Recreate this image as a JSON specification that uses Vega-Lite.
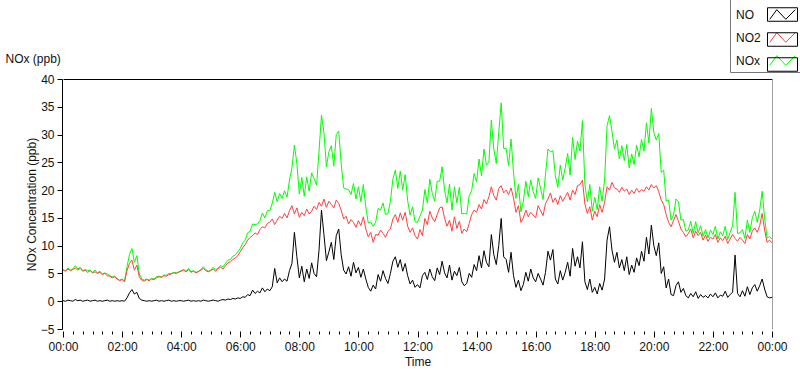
{
  "$schema": "https://vega.github.io/schema/vega-lite/v6.json",
  "width": 709,
  "height": 250,
  "autosize": {"type": "none"},
  "padding": {"left": 63, "top": 79, "right": 28, "bottom": 40},
  "background": "white",
  "config": {
    "font": "Liberation Sans",
    "view": {"stroke": null},
    "axis": {"labelFont": "Liberation Sans", "titleFont": "Liberation Sans", "labelFontSize": 12, "titleFontSize": 12, "titleFontWeight": "normal", "labelColor": "#111", "titleColor": "#111", "grid": false, "domainColor": "#000", "tickColor": "#000"}
  },
  "data": {"values": [
{"m":0,"NO":0.1,"NO2":5.6,"NOx":5.7},{"m":5,"NO":0.0,"NO2":5.4,"NOx":5.5},{"m":10,"NO":0.2,"NO2":5.8,"NOx":6.0},{"m":15,"NO":0.1,"NO2":5.5,"NOx":5.6},{"m":20,"NO":0.0,"NO2":5.7,"NOx":5.8},{"m":25,"NO":0.3,"NO2":6.0,"NOx":6.4},{"m":30,"NO":0.1,"NO2":5.6,"NOx":5.8},{"m":35,"NO":0.2,"NO2":5.9,"NOx":6.1},{"m":40,"NO":0.0,"NO2":5.4,"NOx":5.5},{"m":45,"NO":0.1,"NO2":5.6,"NOx":5.7},{"m":50,"NO":0.2,"NO2":5.2,"NOx":5.5},{"m":55,"NO":0.0,"NO2":5.5,"NOx":5.6},
{"m":60,"NO":0.1,"NO2":5.1,"NOx":5.2},{"m":65,"NO":0.2,"NO2":5.3,"NOx":5.6},{"m":70,"NO":0.0,"NO2":5.0,"NOx":5.1},{"m":75,"NO":0.1,"NO2":5.2,"NOx":5.4},{"m":80,"NO":0.0,"NO2":4.8,"NOx":4.9},{"m":85,"NO":0.1,"NO2":5.0,"NOx":5.1},{"m":90,"NO":0.2,"NO2":4.6,"NOx":4.9},{"m":95,"NO":0.0,"NO2":4.5,"NOx":4.6},{"m":100,"NO":0.1,"NO2":4.2,"NOx":4.4},{"m":105,"NO":0.0,"NO2":4.4,"NOx":4.5},{"m":110,"NO":0.1,"NO2":4.0,"NOx":4.1},{"m":115,"NO":0.0,"NO2":3.7,"NOx":3.8},
{"m":120,"NO":0.1,"NO2":3.9,"NOx":4.0},{"m":125,"NO":0.0,"NO2":3.5,"NOx":3.6},{"m":130,"NO":0.6,"NO2":5.5,"NOx":6.2},{"m":135,"NO":1.5,"NO2":6.8,"NOx":8.4},{"m":140,"NO":2.1,"NO2":7.4,"NOx":9.5},{"m":145,"NO":1.3,"NO2":5.6,"NOx":7.0},{"m":150,"NO":1.6,"NO2":6.5,"NOx":8.2},{"m":155,"NO":0.5,"NO2":4.3,"NOx":4.9},{"m":160,"NO":0.2,"NO2":3.8,"NOx":4.0},{"m":165,"NO":0.1,"NO2":3.6,"NOx":3.8},{"m":170,"NO":0.0,"NO2":3.9,"NOx":4.0},{"m":175,"NO":0.1,"NO2":3.7,"NOx":3.8},
{"m":180,"NO":0.0,"NO2":4.0,"NOx":4.1},{"m":185,"NO":0.1,"NO2":3.9,"NOx":4.0},{"m":190,"NO":0.2,"NO2":4.2,"NOx":4.4},{"m":195,"NO":0.0,"NO2":4.4,"NOx":4.5},{"m":200,"NO":0.1,"NO2":4.3,"NOx":4.4},{"m":205,"NO":0.0,"NO2":4.6,"NOx":4.7},{"m":210,"NO":0.1,"NO2":4.5,"NOx":4.7},{"m":215,"NO":0.2,"NO2":4.8,"NOx":5.0},{"m":220,"NO":0.0,"NO2":4.9,"NOx":5.0},{"m":225,"NO":0.1,"NO2":5.1,"NOx":5.2},{"m":230,"NO":0.0,"NO2":5.0,"NOx":5.1},{"m":235,"NO":0.1,"NO2":5.2,"NOx":5.3},
{"m":240,"NO":0.1,"NO2":5.4,"NOx":5.5},{"m":245,"NO":0.0,"NO2":5.6,"NOx":5.7},{"m":250,"NO":0.1,"NO2":5.3,"NOx":5.4},{"m":255,"NO":0.2,"NO2":5.7,"NOx":5.9},{"m":260,"NO":0.0,"NO2":5.2,"NOx":5.3},{"m":265,"NO":0.1,"NO2":5.4,"NOx":5.5},{"m":270,"NO":0.0,"NO2":5.1,"NOx":5.2},{"m":275,"NO":0.1,"NO2":5.3,"NOx":5.4},{"m":280,"NO":0.0,"NO2":5.6,"NOx":5.7},{"m":285,"NO":0.2,"NO2":5.9,"NOx":6.2},{"m":290,"NO":0.1,"NO2":5.5,"NOx":5.7},{"m":295,"NO":0.0,"NO2":5.3,"NOx":5.4},
{"m":300,"NO":0.1,"NO2":5.5,"NOx":5.6},{"m":305,"NO":0.2,"NO2":5.8,"NOx":6.1},{"m":310,"NO":0.1,"NO2":5.4,"NOx":5.6},{"m":315,"NO":0.0,"NO2":5.9,"NOx":6.0},{"m":320,"NO":0.2,"NO2":6.1,"NOx":6.4},{"m":325,"NO":0.3,"NO2":5.8,"NOx":6.2},{"m":330,"NO":0.2,"NO2":6.4,"NOx":6.8},{"m":335,"NO":0.4,"NO2":6.9,"NOx":7.4},{"m":340,"NO":0.3,"NO2":7.1,"NOx":7.5},{"m":345,"NO":0.5,"NO2":7.5,"NOx":8.1},{"m":350,"NO":0.4,"NO2":7.8,"NOx":8.3},{"m":355,"NO":0.6,"NO2":8.2,"NOx":8.9},
{"m":360,"NO":0.5,"NO2":8.9,"NOx":9.5},{"m":365,"NO":0.8,"NO2":9.6,"NOx":10.5},{"m":370,"NO":0.7,"NO2":10.2,"NOx":11.0},{"m":375,"NO":1.2,"NO2":11.0,"NOx":12.3},{"m":380,"NO":1.0,"NO2":11.5,"NOx":12.6},{"m":385,"NO":2.0,"NO2":11.8,"NOx":13.9},{"m":390,"NO":1.4,"NO2":12.3,"NOx":13.8},{"m":395,"NO":1.8,"NO2":12.0,"NOx":13.9},{"m":400,"NO":1.5,"NO2":12.9,"NOx":14.5},{"m":405,"NO":2.4,"NO2":13.4,"NOx":15.9},{"m":410,"NO":1.7,"NO2":13.2,"NOx":15.0},{"m":415,"NO":2.2,"NO2":14.0,"NOx":16.3},
{"m":420,"NO":1.9,"NO2":14.2,"NOx":16.3},{"m":425,"NO":2.6,"NO2":14.8,"NOx":17.6},{"m":430,"NO":5.9,"NO2":13.8,"NOx":19.6},{"m":435,"NO":3.3,"NO2":14.6,"NOx":17.9},{"m":440,"NO":4.2,"NO2":15.3,"NOx":19.4},{"m":445,"NO":3.5,"NO2":14.9,"NOx":18.5},{"m":450,"NO":4.0,"NO2":15.8,"NOx":19.9},{"m":455,"NO":3.6,"NO2":15.0,"NOx":18.7},{"m":460,"NO":5.5,"NO2":16.3,"NOx":21.8},{"m":465,"NO":6.8,"NO2":17.2,"NOx":24.0},{"m":470,"NO":12.4,"NO2":15.7,"NOx":28.1},{"m":475,"NO":8.0,"NO2":16.8,"NOx":24.8},
{"m":480,"NO":4.2,"NO2":15.1,"NOx":19.3},{"m":485,"NO":6.3,"NO2":16.0,"NOx":22.3},{"m":490,"NO":3.5,"NO2":15.4,"NOx":18.9},{"m":495,"NO":5.8,"NO2":16.6,"NOx":22.4},{"m":500,"NO":4.1,"NO2":15.7,"NOx":19.8},{"m":505,"NO":6.9,"NO2":16.2,"NOx":23.1},{"m":510,"NO":5.0,"NO2":17.1,"NOx":22.1},{"m":515,"NO":4.4,"NO2":16.5,"NOx":20.9},{"m":520,"NO":9.2,"NO2":17.8,"NOx":27.0},{"m":525,"NO":16.4,"NO2":17.1,"NOx":33.5},{"m":530,"NO":12.0,"NO2":18.4,"NOx":30.4},{"m":535,"NO":7.3,"NO2":16.9,"NOx":24.2},
{"m":540,"NO":8.9,"NO2":18.0,"NOx":26.9},{"m":545,"NO":10.6,"NO2":17.4,"NOx":28.0},{"m":550,"NO":7.5,"NO2":16.8,"NOx":24.3},{"m":555,"NO":11.8,"NO2":18.2,"NOx":30.0},{"m":560,"NO":13.0,"NO2":17.6,"NOx":30.6},{"m":565,"NO":8.4,"NO2":16.4,"NOx":24.8},{"m":570,"NO":5.6,"NO2":14.8,"NOx":20.4},{"m":575,"NO":4.9,"NO2":15.3,"NOx":20.2},{"m":580,"NO":6.2,"NO2":13.9,"NOx":20.1},{"m":585,"NO":4.5,"NO2":14.7,"NOx":19.2},{"m":590,"NO":7.0,"NO2":14.2,"NOx":21.2},{"m":595,"NO":5.1,"NO2":13.3,"NOx":18.4},
{"m":600,"NO":6.1,"NO2":14.5,"NOx":20.6},{"m":605,"NO":4.3,"NO2":13.6,"NOx":17.9},{"m":610,"NO":5.8,"NO2":15.2,"NOx":21.0},{"m":615,"NO":4.0,"NO2":13.0,"NOx":17.0},{"m":620,"NO":2.5,"NO2":11.6,"NOx":14.1},{"m":625,"NO":1.8,"NO2":12.4,"NOx":14.2},{"m":630,"NO":2.9,"NO2":10.6,"NOx":13.5},{"m":635,"NO":2.2,"NO2":12.0,"NOx":14.2},{"m":640,"NO":4.8,"NO2":11.9,"NOx":16.7},{"m":645,"NO":3.6,"NO2":12.8,"NOx":16.4},{"m":650,"NO":5.5,"NO2":12.2,"NOx":17.7},{"m":655,"NO":4.1,"NO2":11.5,"NOx":15.6},
{"m":660,"NO":3.2,"NO2":12.6,"NOx":15.8},{"m":665,"NO":5.0,"NO2":13.0,"NOx":18.0},{"m":670,"NO":7.2,"NO2":14.8,"NOx":22.0},{"m":675,"NO":8.0,"NO2":15.6,"NOx":23.6},{"m":680,"NO":6.1,"NO2":14.2,"NOx":20.3},{"m":685,"NO":7.5,"NO2":15.9,"NOx":23.4},{"m":690,"NO":5.4,"NO2":14.6,"NOx":20.0},{"m":695,"NO":6.8,"NO2":16.0,"NOx":22.8},{"m":700,"NO":4.6,"NO2":13.5,"NOx":18.1},{"m":705,"NO":3.1,"NO2":12.4,"NOx":15.5},{"m":710,"NO":3.8,"NO2":13.2,"NOx":17.0},{"m":715,"NO":2.5,"NO2":11.8,"NOx":14.3},
{"m":720,"NO":3.0,"NO2":11.2,"NOx":14.2},{"m":725,"NO":2.4,"NO2":12.9,"NOx":15.3},{"m":730,"NO":4.6,"NO2":11.8,"NOx":16.4},{"m":735,"NO":5.2,"NO2":14.9,"NOx":20.1},{"m":740,"NO":3.9,"NO2":13.8,"NOx":17.7},{"m":745,"NO":5.8,"NO2":16.2,"NOx":22.0},{"m":750,"NO":4.4,"NO2":15.0,"NOx":19.4},{"m":755,"NO":3.7,"NO2":14.3,"NOx":18.0},{"m":760,"NO":6.0,"NO2":15.6,"NOx":21.6},{"m":765,"NO":4.8,"NO2":16.8,"NOx":21.6},{"m":770,"NO":7.2,"NO2":17.0,"NOx":24.2},{"m":775,"NO":5.1,"NO2":14.9,"NOx":20.0},
{"m":780,"NO":4.2,"NO2":13.5,"NOx":17.7},{"m":785,"NO":6.5,"NO2":14.6,"NOx":21.1},{"m":790,"NO":3.8,"NO2":12.6,"NOx":16.4},{"m":795,"NO":5.4,"NO2":15.2,"NOx":20.6},{"m":800,"NO":4.6,"NO2":13.1,"NOx":17.7},{"m":805,"NO":6.1,"NO2":14.4,"NOx":20.5},{"m":810,"NO":3.5,"NO2":12.2,"NOx":15.7},{"m":815,"NO":2.8,"NO2":13.0,"NOx":15.8},{"m":820,"NO":3.2,"NO2":12.5,"NOx":15.7},{"m":825,"NO":5.0,"NO2":14.0,"NOx":19.0},{"m":830,"NO":4.3,"NO2":15.6,"NOx":19.9},{"m":835,"NO":6.6,"NO2":16.4,"NOx":23.0},
{"m":840,"NO":5.5,"NO2":16.0,"NOx":21.5},{"m":845,"NO":8.2,"NO2":17.4,"NOx":25.6},{"m":850,"NO":6.0,"NO2":16.6,"NOx":22.6},{"m":855,"NO":9.1,"NO2":18.3,"NOx":27.4},{"m":860,"NO":7.0,"NO2":17.5,"NOx":24.5},{"m":865,"NO":6.2,"NO2":18.8,"NOx":25.0},{"m":870,"NO":12.0,"NO2":20.6,"NOx":32.6},{"m":875,"NO":8.4,"NO2":19.0,"NOx":27.4},{"m":880,"NO":6.6,"NO2":18.2,"NOx":24.8},{"m":885,"NO":10.0,"NO2":20.3,"NOx":30.3},{"m":890,"NO":14.9,"NO2":20.8,"NOx":35.7},{"m":895,"NO":8.0,"NO2":19.5,"NOx":27.5},
{"m":900,"NO":7.5,"NO2":20.0,"NOx":27.5},{"m":905,"NO":5.2,"NO2":19.2,"NOx":24.4},{"m":910,"NO":8.8,"NO2":20.4,"NOx":29.2},{"m":915,"NO":4.6,"NO2":18.6,"NOx":23.2},{"m":920,"NO":2.5,"NO2":16.0,"NOx":18.5},{"m":925,"NO":3.8,"NO2":17.2,"NOx":21.0},{"m":930,"NO":1.9,"NO2":14.2,"NOx":16.1},{"m":935,"NO":3.0,"NO2":15.0,"NOx":18.0},{"m":940,"NO":5.2,"NO2":16.4,"NOx":21.6},{"m":945,"NO":3.6,"NO2":15.2,"NOx":18.8},{"m":950,"NO":5.8,"NO2":16.0,"NOx":21.8},{"m":955,"NO":4.2,"NO2":15.5,"NOx":19.7},
{"m":960,"NO":3.5,"NO2":15.0,"NOx":18.5},{"m":965,"NO":5.0,"NO2":17.2,"NOx":22.2},{"m":970,"NO":4.0,"NO2":16.3,"NOx":20.3},{"m":975,"NO":2.9,"NO2":15.4,"NOx":18.3},{"m":980,"NO":5.2,"NO2":17.6,"NOx":22.8},{"m":985,"NO":9.0,"NO2":18.4,"NOx":27.4},{"m":990,"NO":7.4,"NO2":19.5,"NOx":26.9},{"m":995,"NO":9.3,"NO2":17.8,"NOx":27.1},{"m":1000,"NO":4.0,"NO2":18.6,"NOx":22.6},{"m":1005,"NO":3.1,"NO2":17.4,"NOx":20.5},{"m":1010,"NO":5.5,"NO2":19.0,"NOx":24.5},{"m":1015,"NO":3.8,"NO2":18.0,"NOx":21.8},
{"m":1020,"NO":5.2,"NO2":18.8,"NOx":24.0},{"m":1025,"NO":7.0,"NO2":19.6,"NOx":26.6},{"m":1030,"NO":4.5,"NO2":18.2,"NOx":22.7},{"m":1035,"NO":9.5,"NO2":20.0,"NOx":29.5},{"m":1040,"NO":6.3,"NO2":19.2,"NOx":25.5},{"m":1045,"NO":8.0,"NO2":20.8,"NOx":28.8},{"m":1050,"NO":6.0,"NO2":21.0,"NOx":27.0},{"m":1055,"NO":10.7,"NO2":21.8,"NOx":32.5},{"m":1060,"NO":3.5,"NO2":17.5,"NOx":21.0},{"m":1065,"NO":2.1,"NO2":15.8,"NOx":17.9},{"m":1070,"NO":4.0,"NO2":17.0,"NOx":21.0},{"m":1075,"NO":1.6,"NO2":14.6,"NOx":16.2},
{"m":1080,"NO":2.5,"NO2":16.2,"NOx":18.7},{"m":1085,"NO":1.3,"NO2":15.2,"NOx":16.5},{"m":1090,"NO":3.2,"NO2":17.4,"NOx":20.6},{"m":1095,"NO":2.0,"NO2":16.0,"NOx":18.0},{"m":1100,"NO":4.0,"NO2":17.8,"NOx":21.8},{"m":1105,"NO":11.0,"NO2":20.6,"NOx":31.6},{"m":1110,"NO":13.4,"NO2":20.0,"NOx":33.4},{"m":1115,"NO":9.2,"NO2":21.4,"NOx":30.6},{"m":1120,"NO":7.0,"NO2":20.4,"NOx":27.4},{"m":1125,"NO":8.8,"NO2":20.2,"NOx":29.0},{"m":1130,"NO":6.0,"NO2":19.6,"NOx":25.6},{"m":1135,"NO":7.5,"NO2":20.5,"NOx":28.0},
{"m":1140,"NO":5.5,"NO2":19.8,"NOx":25.3},{"m":1145,"NO":8.0,"NO2":20.2,"NOx":28.2},{"m":1150,"NO":4.8,"NO2":19.2,"NOx":24.0},{"m":1155,"NO":6.5,"NO2":20.0,"NOx":26.5},{"m":1160,"NO":5.2,"NO2":19.4,"NOx":24.6},{"m":1165,"NO":7.8,"NO2":20.3,"NOx":28.1},{"m":1170,"NO":6.4,"NO2":19.6,"NOx":26.0},{"m":1175,"NO":9.0,"NO2":20.1,"NOx":29.1},{"m":1180,"NO":7.2,"NO2":19.8,"NOx":27.0},{"m":1185,"NO":11.5,"NO2":20.6,"NOx":32.1},{"m":1190,"NO":8.5,"NO2":20.0,"NOx":28.5},{"m":1195,"NO":13.7,"NO2":21.0,"NOx":34.7},
{"m":1200,"NO":10.0,"NO2":20.4,"NOx":30.4},{"m":1205,"NO":8.2,"NO2":20.8,"NOx":29.0},{"m":1210,"NO":10.5,"NO2":19.7,"NOx":30.2},{"m":1215,"NO":5.0,"NO2":18.2,"NOx":23.2},{"m":1220,"NO":6.2,"NO2":17.4,"NOx":23.6},{"m":1225,"NO":2.4,"NO2":15.6,"NOx":18.0},{"m":1230,"NO":4.0,"NO2":14.2,"NOx":18.2},{"m":1235,"NO":1.2,"NO2":13.4,"NOx":14.6},{"m":1240,"NO":1.0,"NO2":14.5,"NOx":15.5},{"m":1245,"NO":2.8,"NO2":15.6,"NOx":18.4},{"m":1250,"NO":3.5,"NO2":14.4,"NOx":17.9},{"m":1255,"NO":1.6,"NO2":13.0,"NOx":14.6},
{"m":1260,"NO":2.3,"NO2":12.4,"NOx":14.7},{"m":1265,"NO":1.0,"NO2":11.6,"NOx":12.6},{"m":1270,"NO":0.6,"NO2":12.2,"NOx":12.8},{"m":1275,"NO":1.4,"NO2":13.0,"NOx":14.4},{"m":1280,"NO":0.8,"NO2":11.4,"NOx":12.2},{"m":1285,"NO":1.7,"NO2":12.6,"NOx":14.3},{"m":1290,"NO":0.5,"NO2":11.8,"NOx":12.3},{"m":1295,"NO":1.2,"NO2":12.4,"NOx":13.6},{"m":1300,"NO":0.7,"NO2":11.0,"NOx":11.7},{"m":1305,"NO":1.0,"NO2":11.9,"NOx":12.9},{"m":1310,"NO":0.6,"NO2":10.8,"NOx":11.4},{"m":1315,"NO":1.3,"NO2":11.5,"NOx":12.8},
{"m":1320,"NO":0.8,"NO2":11.2,"NOx":12.0},{"m":1325,"NO":1.5,"NO2":12.0,"NOx":13.5},{"m":1330,"NO":0.6,"NO2":10.6,"NOx":11.2},{"m":1335,"NO":1.1,"NO2":11.4,"NOx":12.5},{"m":1340,"NO":0.9,"NO2":10.9,"NOx":11.8},{"m":1345,"NO":1.8,"NO2":11.7,"NOx":13.5},{"m":1350,"NO":0.7,"NO2":10.4,"NOx":11.1},{"m":1355,"NO":1.2,"NO2":11.2,"NOx":12.4},{"m":1360,"NO":1.6,"NO2":12.0,"NOx":13.6},{"m":1365,"NO":8.3,"NO2":11.3,"NOx":19.6},{"m":1370,"NO":1.4,"NO2":10.8,"NOx":12.2},{"m":1375,"NO":0.8,"NO2":11.5,"NOx":12.3},
{"m":1380,"NO":1.9,"NO2":11.0,"NOx":12.9},{"m":1385,"NO":0.9,"NO2":10.4,"NOx":11.3},{"m":1390,"NO":2.6,"NO2":12.0,"NOx":14.6},{"m":1395,"NO":1.2,"NO2":11.2,"NOx":12.4},{"m":1400,"NO":2.4,"NO2":12.6,"NOx":15.0},{"m":1405,"NO":3.0,"NO2":13.2,"NOx":16.2},{"m":1410,"NO":1.8,"NO2":12.4,"NOx":14.2},{"m":1415,"NO":2.8,"NO2":13.6,"NOx":16.4},{"m":1420,"NO":4.0,"NO2":15.8,"NOx":19.8},{"m":1425,"NO":2.2,"NO2":12.8,"NOx":15.0},{"m":1430,"NO":0.8,"NO2":10.6,"NOx":11.4},{"m":1435,"NO":0.6,"NO2":11.0,"NOx":11.6},{"m":1440,"NO":0.7,"NO2":10.5,"NOx":11.2}
  ]},
  "resolve": {"axis": {"x": "independent", "y": "independent"}},
  "layer": [
    {
      "mark": {"type": "line", "strokeWidth": 1, "interpolate": "linear"},
      "encoding": {
        "x": {"field": "m", "type": "quantitative", "scale": {"domain": [0, 1440], "nice": false, "zero": false},
          "axis": {"title": "Time", "titlePadding": 4, "values": [0,20,40,60,80,100,120,140,160,180,200,220,240,260,280,300,320,340,360,380,400,420,440,460,480,500,520,540,560,580,600,620,640,660,680,700,720,740,760,780,800,820,840,860,880,900,920,940,960,980,1000,1020,1040,1060,1080,1100,1120,1140,1160,1180,1200,1220,1240,1260,1280,1300,1320,1340,1360,1380,1400,1420,1440],
            "domain": false, "offset": 2, "tickSize": {"condition": {"test": "datum.value % 120 === 0", "value": 6}, "value": 3},
            "labelExpr": "datum.value % 120 === 0 ? ((floor(datum.value/60) % 24) < 10 ? '0' : '') + (floor(datum.value/60) % 24) + ':00' : ''",
            "labelOverlap": false, "labelBound": false, "labelFlush": false, "labelPadding": 4}},
        "y": {"field": "NOx", "type": "quantitative", "scale": {"domain": [-5, 40], "nice": false, "zero": false},
          "axis": {"title": "NOx Concentration (ppb)", "values": [-5,0,5,10,15,20,25,30,35,40], "tickSize": 5, "offset": 1, "domainColor": "#000", "titlePadding": 2, "labelPadding": 3}},
        "color": {"datum": "NOx", "scale": {"domain": ["NO", "NO2", "NOx"], "range": ["#000000", "#ff4040", "#00ff00"]},
          "legend": {"title": null, "orient": "none", "legendX": 667, "legendY": -84, "direction": "vertical",
            "symbolType": "M-0.85,0.32L-0.38,-0.32L0.22,0.32L0.85,-0.32", "symbolSize": 900, "symbolStrokeWidth": 1,
            "symbolOffset": 33, "labelOffset": -62, "padding": 4, "rowPadding": -8.5, "labelFontSize": 12, "labelFont": "Liberation Sans", "labelColor": "#111",
            "strokeColor": "#777", "fillColor": null}}
      }
    },
    {
      "mark": {"type": "line", "strokeWidth": 1},
      "encoding": {
        "x": {"field": "m", "type": "quantitative", "axis": {"orient": "top", "title": "NOx (ppb)", "titleX": -58, "titleY": -17, "titleAlign": "left", "titleAnchor": null, "titleBaseline": "alphabetic", "titleAngle": 0, "titleFontSize": 12, "labels": false, "ticks": false, "domain": true, "domainColor": "#000"}},
        "y": {"field": "NO2", "type": "quantitative", "axis": {"orient": "right", "title": null, "labels": false, "ticks": false, "domain": true, "domainColor": "#a0a0a0"}},
        "color": {"datum": "NO2"}
      }
    },
    {
      "mark": {"type": "line", "strokeWidth": 1},
      "encoding": {
        "x": {"field": "m", "type": "quantitative", "axis": null},
        "y": {"field": "NO", "type": "quantitative", "axis": null},
        "color": {"datum": "NO"}
      }
    },
    {
      "transform": [{"filter": "datum.m === 0"}, {"fold": ["NO", "NO2", "NOx"], "as": ["key", "val"]}],
      "mark": {"type": "point", "opacity": 0},
      "encoding": {
        "x": {"field": "m", "type": "quantitative", "axis": null},
        "y": {"field": "val", "type": "quantitative", "axis": null},
        "shape": {"field": "key", "type": "nominal", "scale": {"domain": ["NO", "NO2", "NOx", "_"], "range": ["M-1,-0.45H1V0.45H-1Z", "M-1,-0.45H1V0.45H-1Z", "M-1,-0.45H1V0.45H-1Z", "M-1,-0.45H1V0.45H-1Z"]},
          "legend": {"title": null, "values": ["NO", "NO2", "NOx"], "orient": "none", "legendX": 667, "legendY": -84, "direction": "vertical",
            "symbolSize": 900, "symbolStrokeWidth": 1, "symbolStrokeColor": "#000", "symbolFillColor": "transparent", "symbolOpacity": 1,
            "symbolOffset": 33, "labelOffset": -62, "padding": 4, "rowPadding": -8.5, "labelFontSize": 12, "labelFont": "Liberation Sans", "labelOpacity": 0, "labelExpr": "''"}}
      }
    }
  ]
}
